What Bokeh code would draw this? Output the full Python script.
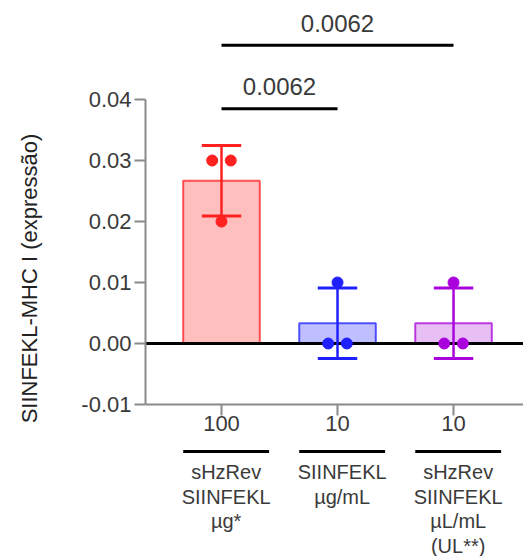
import numpy as np
from bokeh.plotting import figure
from bokeh.models import Range1d, FixedTicker, NumeralTickFormatter
from bokeh.core.properties import value
from bokeh.embed import file_html
from bokeh.resources import INLINE

# ---- data ----
dose_labels = ["100", "10", "10"]
group_labels = ["sHzRev\nSIINFEKL\nµg*", "SIINFEKL\nµg/mL", "sHzRev\nSIINFEKL\nµL/mL\n(UL**)"]
rep_values = [
    [0.030, 0.030, 0.020],
    [0.010, 0.000, 0.000],
    [0.010, 0.000, 0.000],
]
jitter = [[-0.08, 0.08, 0.0], [0.0, -0.08, 0.08], [0.0, -0.08, 0.08]]
line_colors = ["#FF2020", "#2020FF", "#AA00DD"]
fill_colors = ["#FFBFBF", "#BFBFFF", "#E8BFF5"]
sig_pairs = [(0, 1), (0, 2)]
sig_labels = ["0.0062", "0.0062"]
sig_levels = [0.0385, 0.0489]
y_ticks = [-0.01, 0.0, 0.01, 0.02, 0.03, 0.04]

xs = np.arange(len(rep_values), dtype=float)
means = [float(np.mean(v)) for v in rep_values]
sds = [float(np.std(v, ddof=1)) for v in rep_values]

FONT = "Liberation Sans"
AX = "#8a8a8a"
TXT = "#3a3a3a"

p = figure(width=523, height=556, output_backend="svg", toolbar_location=None,
           x_range=Range1d(-0.655, 2.603), y_range=Range1d(-0.03492, 0.05623),
           min_border_left=145, min_border_right=0, min_border_top=0, min_border_bottom=0)
p.outline_line_color = None
p.xgrid.visible = False
p.ygrid.visible = False
p.background_fill_color = "white"
p.border_fill_color = "white"

# bars
p.vbar(x=xs, top=means, bottom=0, width=0.66, fill_color=fill_colors,
       line_color=line_colors, line_width=2, line_alpha=0.75)

# zero line
p.hspan(y=[0], line_color="black", line_width=3)

# error bars
lo = [m - s for m, s in zip(means, sds)]
hi = [m + s for m, s in zip(means, sds)]
p.segment(x0=xs, x1=xs, y0=lo, y1=hi, line_color=line_colors, line_width=2.5)
cap = 0.17
p.segment(x0=xs - cap, x1=xs + cap, y0=hi, y1=hi, line_color=line_colors, line_width=3)
p.segment(x0=xs - cap, x1=xs + cap, y0=lo, y1=lo, line_color=line_colors, line_width=3)

# points
px, py, pc = [], [], []
for i, vals in enumerate(rep_values):
    for j, v in enumerate(vals):
        px.append(xs[i] + jitter[i][j]); py.append(v); pc.append(line_colors[i])
p.scatter(x=px, y=py, size=11, fill_color=pc, line_color=pc)

# significance brackets
for (a, b), lab, lev in zip(sig_pairs, sig_labels, sig_levels):
    p.segment(x0=[xs[a]], x1=[xs[b]], y0=[lev], y1=[lev], line_color="black", line_width=3)
    p.text(x=[(xs[a] + xs[b]) / 2], y=[lev + 0.0036], text=[lab], text_align="center",
           text_baseline="alphabetic", text_font=value(FONT), text_font_size="24px",
           text_color=TXT)

# group underline + labels below x axis
gx = xs + 0.04
p.segment(x0=gx - 0.37, x1=gx + 0.37, y0=-0.0177, y1=-0.0177, line_color="black", line_width=3)
p.text(x=gx, y=[-0.0193] * 3, text=group_labels, text_align="center", text_baseline="top",
       text_font=value(FONT), text_font_size="20px", text_color=TXT, text_line_height=1.12)

# axes
yax = p.yaxis[0]
yax.bounds = (-0.01, 0.04)
yax.ticker = FixedTicker(ticks=y_ticks)
yax.formatter = NumeralTickFormatter(format="0.00")
yax.axis_label = "SIINFEKL-MHC I (expressão)"
yax.axis_label_text_font = FONT
yax.axis_label_text_font_size = "22px"
yax.axis_label_text_font_style = "normal"
yax.axis_label_text_color = "#222222"
yax.axis_label_standoff = 36
yax.major_label_text_font = FONT
yax.major_label_text_font_size = "22px"
yax.major_label_text_color = TXT
yax.major_label_standoff = 3
yax.axis_line_color = AX
yax.axis_line_width = 2
yax.major_tick_line_color = AX
yax.major_tick_line_width = 2
yax.major_tick_out = 11
yax.major_tick_in = 0
yax.minor_tick_line_color = None

xax = p.xaxis[0]
xax.fixed_location = -0.01
xax.ticker = FixedTicker(ticks=list(xs))
xax.major_label_overrides = {float(x): l for x, l in zip(xs, dose_labels)}
xax.major_label_text_font = FONT
xax.major_label_text_font_size = "22px"
xax.major_label_text_color = TXT
xax.major_label_standoff = 1
xax.axis_line_color = AX
xax.axis_line_width = 2
xax.major_tick_line_color = AX
xax.major_tick_line_width = 2
xax.major_tick_out = 11
xax.major_tick_in = 0
xax.minor_tick_line_color = None

open("out.html", "w").write(file_html(p, INLINE))
